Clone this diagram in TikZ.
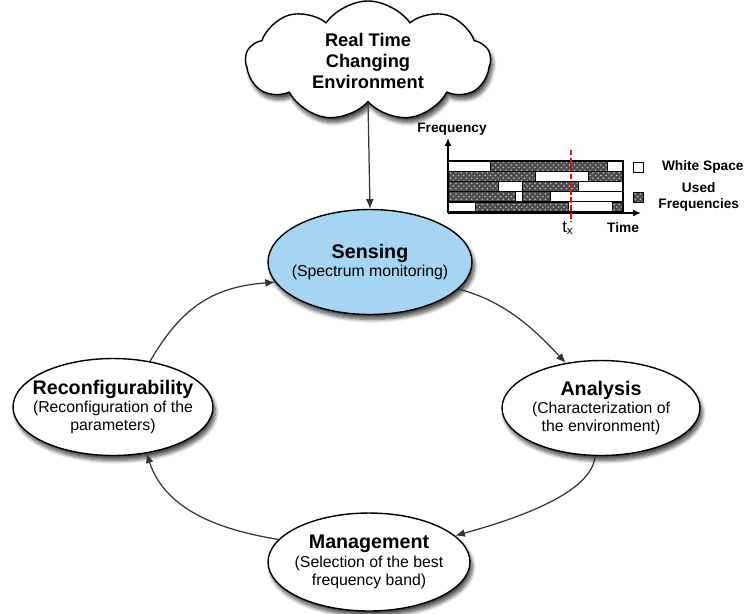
\documentclass[tikz,border=0pt]{standalone}
\usepackage{fontspec}
\setmainfont{Liberation Sans}
\usepackage{tikz}
\usetikzlibrary{arrows.meta}
\usetikzlibrary{shapes.geometric, shapes.symbols}
\usetikzlibrary{patterns, shadows.blur, positioning}

\definecolor{sensingblue}{RGB}{166,212,243}
\newcommand{\stagetitle}{\fontsize{11.2}{13}\selectfont\bfseries}

\tikzset{
  softshadow/.style={blur shadow={shadow xshift=1.4pt, shadow yshift=-2.8pt, shadow blur steps=8, shadow opacity=70}},
  stage/.style={ellipse, draw=black, line width=0.8pt, fill=white,
    minimum width=4cm, minimum height=1.94cm, inner xsep=-8pt, inner ysep=0pt,
    align=center, font=\fontsize{9}{10.4}\selectfont, softshadow},
  loopedge/.style={-{Latex[length=5.5pt,width=4.5pt]}, line width=0.7pt, draw=black!80},
  charttext/.style={font=\fontsize{7.8}{9}\selectfont\bfseries, inner sep=1pt, align=center},
  usedband/.style={draw=black, line width=0.3pt, preaction={fill=black!70},
    pattern=crosshatch dots, pattern color=white!75!black},
  keybox/.style={draw=black, line width=0.5pt, minimum size=0.2cm, inner sep=0pt},
}

\begin{document}
\begin{tikzpicture}[x=0.02cm, y=-0.02cm]
        \useasboundingbox (0,0) rectangle (750,613);
        % frequency chart
        \newcommand{\bandx}{448}
        \newcommand{\bandxend}{623}
        \newcommand{\bandy}{161}
        \newcommand{\bandh}{10.2}
        \fill[white] (\bandx,\bandy) rectangle (\bandxend,{\bandy+5*\bandh});
        % row 1
        \draw[usedband] (490,\bandy) rectangle (607,{\bandy+\bandh});
        % row 2
        \draw[usedband] (\bandx,{\bandy+\bandh}) rectangle (535,{\bandy+2*\bandh});
        \draw[usedband] (588,{\bandy+\bandh}) rectangle (\bandxend,{\bandy+2*\bandh});
        % row 3
        \draw[usedband] (\bandx,{\bandy+2*\bandh}) rectangle (498,{\bandy+3*\bandh});
        \draw[usedband] (522,{\bandy+2*\bandh}) rectangle (578,{\bandy+3*\bandh});
        % row 4
        \draw[usedband] (\bandx,{\bandy+3*\bandh}) rectangle (515,{\bandy+4*\bandh});
        \draw[usedband] (522,{\bandy+3*\bandh}) rectangle (550,{\bandy+4*\bandh});
        % row 5
        \draw[usedband] (475,{\bandy+4*\bandh}) rectangle (568,{\bandy+5*\bandh});
        \draw[usedband] (612,{\bandy+4*\bandh}) rectangle (\bandxend,{\bandy+5*\bandh});
        \draw[line width=0.4pt] (\bandx,{\bandy+\bandh}) -- (\bandxend,{\bandy+\bandh});
        \draw[line width=0.4pt] (\bandx,{\bandy+2*\bandh}) -- (\bandxend,{\bandy+2*\bandh});
        \draw[line width=0.4pt] (\bandx,{\bandy+3*\bandh}) -- (\bandxend,{\bandy+3*\bandh});
        \draw[line width=0.4pt] (\bandx,{\bandy+4*\bandh}) -- (\bandxend,{\bandy+4*\bandh});
        \draw[line width=0.9pt] (\bandx,\bandy) rectangle (\bandxend,{\bandy+5*\bandh});
        % axes
        \coordinate (origin) at (\bandx,213);
        \coordinate (freqtop) at (\bandx,138);
        \coordinate (timeend) at (641,213);
        \draw[line width=0.9pt, -{Latex[length=4.5pt,width=4pt]}] (origin) -- (freqtop);
        \draw[line width=0.9pt, -{Latex[length=4.5pt,width=4pt]}] (origin) -- (timeend);
        \coordinate (txtop) at (571,150);
        \coordinate (txbottom) at (571,222);
        \draw[red, line width=1.3pt, dash pattern=on 3pt off 1.5pt] (txtop) -- (txbottom);
        \node[charttext] (freqlabel) at (452,129) {Frequency};
        \node[charttext] (timelabel) at (623,228) {Time};
        \node[charttext, font=\fontsize{9.5}{10}\selectfont] (txlabel) at (568,228) {t\textsubscript{x}};
        % legend
        \node[keybox, fill=white] (whitekey) at (638,167) {};
        \node[keybox, usedband] (usedkey) at (638,197) {};
        \node[charttext, right=0.33cm of whitekey] (whitetext) {White Space};
        \node[charttext, right=0.26cm of usedkey] (usedtext) {Used\\Frequencies};

        % cycle
        \node[cloud, cloud puffs=9, cloud puff arc=110, cloud ignores aspect, draw=black, line width=0.8pt, fill=white,
              minimum width=4.9cm, minimum height=1.7cm, align=center,
              font=\fontsize{10.4}{11.9}\selectfont\bfseries, softshadow]
              (environment) at (368,61) {Real Time\\Changing\\Environment};
        \node[stage, fill=sensingblue, minimum width=4.08cm, minimum height=2.1cm] (sensing) at (370,262)
              {{\stagetitle Sensing}\\(Spectrum monitoring)};
        \node[stage, minimum width=3.96cm, minimum height=1.9cm] (analysis) at (601,408)
              {{\stagetitle Analysis}\\(Characterization of\\the environment)};
        \node[stage, minimum width=4.04cm, minimum height=1.96cm] (management) at (369,562)
              {{\stagetitle Management}\\(Selection of the best\\frequency band)};
        \node[stage] (reconfig) at (113,407)
              {{\stagetitle Reconfigurability}\\(Reconfiguration of the\\parameters)};

        \draw[loopedge] (environment.south) -- (sensing.north);
        \draw[loopedge] (sensing.-17) .. controls (505,301) and (535,330) .. (analysis.128);
        \draw[loopedge] (analysis.-97) .. controls (592,490) and (530,515) .. (management.17);
        \draw[loopedge] (management.166) .. controls (220,530) and (165,510) .. (reconfig.-54);
        \draw[loopedge] (reconfig.51) .. controls (180,310) and (210,287) .. (sensing.192);
\end{tikzpicture}
\end{document}
